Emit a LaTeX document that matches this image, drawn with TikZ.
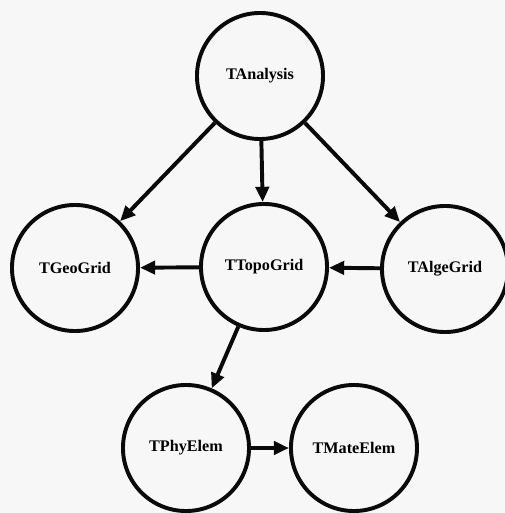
\documentclass[tikz,border=0pt]{standalone}
\usepackage{fontspec}
\setmainfont{Liberation Serif}
\usepackage{tikz}
\usetikzlibrary{arrows.meta,positioning}
\usepackage{xcolor}
\definecolor{ink}{RGB}{10,10,10}
\definecolor{paper}{RGB}{247,247,247}
\tikzset{
  cls/.style={circle,draw=ink,line width=2.8pt,minimum size=3.15cm,inner sep=0pt,
    font=\fontsize{11.5}{13}\selectfont\bfseries},
  arr/.style={-{Triangle[length=3.8mm,width=3.3mm]},line width=2.8pt,ink},
}

\begin{document}
\begin{tikzpicture}[x=0.025cm,y=-0.025cm]
  \fill[paper] (0,0) rectangle (505,513);
  \useasboundingbox (0,0) rectangle (505,513);
  \node[cls] (ana)  at (260,76)  {TAnalysis};
  \node[cls] (geo)  at (75,268)  {TGeoGrid};
  \node[cls] (topo) at (264,267) {TTopoGrid};
  \node[cls] (alge) at (445,269) {TAlgeGrid};
  \node[cls] (phy)  at (186,448) {TPhyElem};
  \node[cls,right=0.95cm of phy] (mate) {TMateElem};
  \draw[arr] (ana) -- (geo);
  \draw[arr] (ana) -- (topo);
  \draw[arr] (ana) -- (alge);
  \draw[arr] (topo) -- (geo);
  \draw[arr] (alge) -- (topo);
  \draw[arr] (topo) -- (phy);
  \draw[arr] (phy) -- (mate);
\end{tikzpicture}
\end{document}
